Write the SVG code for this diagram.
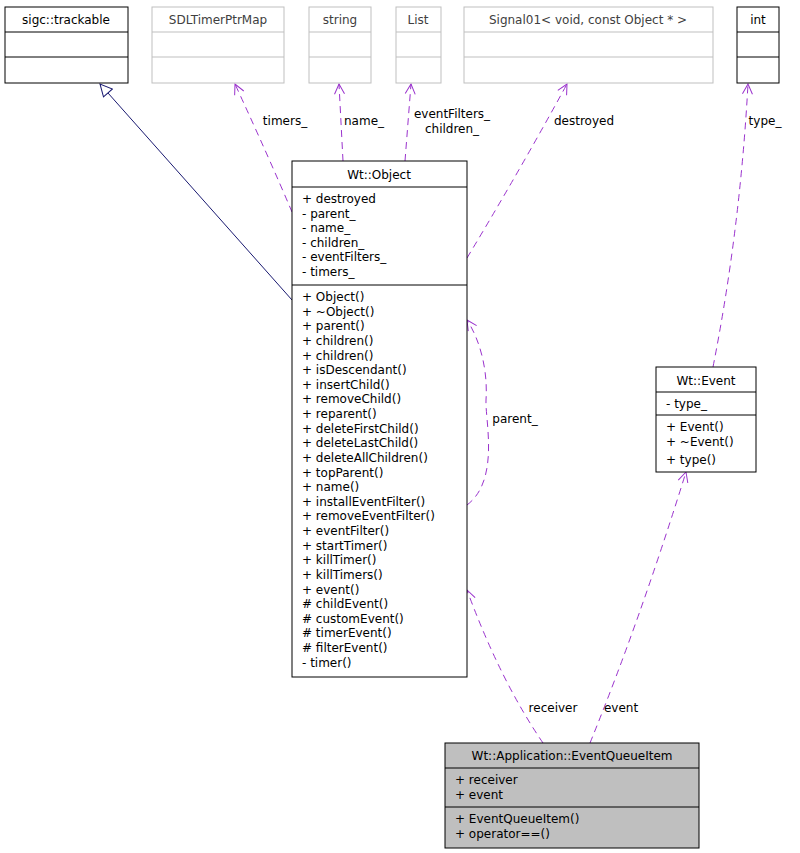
<svg xmlns="http://www.w3.org/2000/svg" width="800" height="853" viewBox="0 0 800 853">
<style>
text{font-family:"DejaVu Sans",sans-serif;font-size:12px;fill:#000}
.c{text-anchor:middle}
.b{fill:#fff;stroke:#000;stroke-width:1}
.g{fill:#fff;stroke:#bfbfbf;stroke-width:1}
.e{fill:none;stroke:#9a32cd;stroke-dasharray:7,5}
.t{fill:#404040}
</style>
<defs>
<marker id="a" markerWidth="12" markerHeight="12" refX="11" refY="6" orient="auto" markerUnits="userSpaceOnUse"><path d="M1,1 L11,6 L1,11" fill="none" stroke="#9a32cd"/></marker>
<marker id="h" markerWidth="14" markerHeight="14" refX="13" refY="7" orient="auto" markerUnits="userSpaceOnUse"><path d="M1,1 L13,7 L1,13 Z" fill="#fff" stroke="#191970"/></marker>
</defs>
<g id="connectors">
<path d="M292,300 L100,84" stroke="#191970" fill="none" marker-end="url(#h)"/>
<path class="e" d="M292,212 Q270,160 235,84" marker-end="url(#a)"/>
<path class="e" d="M343,161 L339,84" marker-end="url(#a)"/>
<path class="e" d="M405,161 L411,84" marker-end="url(#a)"/>
<path class="e" d="M467,258 Q520,170 567,84" marker-end="url(#a)"/>
<path class="e" d="M713,367 Q740,230 748,84" marker-end="url(#a)"/>
<path class="e" d="M467,505 C500,480 485,420 486,400 C488,370 480,340 467,320" marker-end="url(#a)"/>
<path class="e" d="M543,743 Q500,680 467,590" marker-end="url(#a)"/>
<path class="e" d="M590,743 Q640,620 686,472" marker-end="url(#a)"/>
<text x="285" y="125" class="c">timers_</text>
<text x="364" y="125" class="c">name_</text>
<text x="452" y="118" class="c">eventFilters_</text>
<text x="452" y="133" class="c">children_</text>
<text x="584" y="125" class="c">destroyed</text>
<text x="765" y="125" class="c">type_</text>
<text x="515" y="423" class="c">parent_</text>
<text x="553" y="712" class="c">receiver</text>
<text x="621" y="712" class="c">event</text>
</g>
<g id="trackable"><rect class="b" x="5" y="7" width="123" height="76"/><path d="M5,32H128M5,57H128" stroke="#000"/><text x="66" y="24" class="c">sigc::trackable</text></g>
<g id="sdltimer"><rect class="g" x="152" y="7" width="132" height="76"/><path d="M152,32H284M152,57H284" stroke="#bfbfbf"/><text x="218" y="24" class="c t">SDLTimerPtrMap</text></g>
<g id="string"><rect class="g" x="309" y="7" width="62" height="76"/><path d="M309,32H371M309,57H371" stroke="#bfbfbf"/><text x="340" y="24" class="c t">string</text></g>
<g id="list"><rect class="g" x="396" y="7" width="45" height="76"/><path d="M396,32H441M396,57H441" stroke="#bfbfbf"/><text x="418" y="24" class="c t">List</text></g>
<g id="signal"><rect class="g" x="464" y="7" width="249" height="76"/><path d="M464,32H713M464,57H713" stroke="#bfbfbf"/><text x="588" y="24" class="c t">Signal01&lt; void, const Object * &gt;</text></g>
<g id="int"><rect class="b" x="737" y="7" width="42" height="76"/><path d="M737,32H779M737,57H779" stroke="#000"/><text x="758" y="24" class="c">int</text></g>
<g id="object"><rect class="b" x="292" y="161" width="175" height="516"/><path d="M292,187H467M292,285H467" stroke="#000"/>
<text x="379" y="179" class="c">Wt::Object</text>
<text x="302" y="203">+ destroyed</text><text x="302" y="218">- parent_</text><text x="302" y="232">- name_</text><text x="302" y="247">- children_</text><text x="302" y="261">- eventFilters_</text><text x="302" y="276">- timers_</text>
<text x="302" y="301">+ Object()</text><text x="302" y="316">+ ~Object()</text><text x="302" y="330">+ parent()</text><text x="302" y="345">+ children()</text><text x="302" y="360">+ children()</text><text x="302" y="374">+ isDescendant()</text><text x="302" y="389">+ insertChild()</text><text x="302" y="403">+ removeChild()</text><text x="302" y="418">+ reparent()</text><text x="302" y="433">+ deleteFirstChild()</text><text x="302" y="447">+ deleteLastChild()</text><text x="302" y="462">+ deleteAllChildren()</text><text x="302" y="477">+ topParent()</text><text x="302" y="491">+ name()</text><text x="302" y="506">+ installEventFilter()</text><text x="302" y="520">+ removeEventFilter()</text><text x="302" y="535">+ eventFilter()</text><text x="302" y="550">+ startTimer()</text><text x="302" y="564">+ killTimer()</text><text x="302" y="579">+ killTimers()</text><text x="302" y="594">+ event()</text><text x="302" y="608"># childEvent()</text><text x="302" y="623"># customEvent()</text><text x="302" y="637"># timerEvent()</text><text x="302" y="652"># filterEvent()</text><text x="302" y="667">- timer()</text>
</g>
<g id="event"><rect class="b" x="656" y="367" width="100" height="105"/><path d="M656,392H756M656,415H756" stroke="#000"/>
<text x="706" y="385" class="c">Wt::Event</text><text x="666" y="408">- type_</text>
<text x="666" y="431">+ Event()</text><text x="666" y="446">+ ~Event()</text><text x="666" y="464">+ type()</text></g>
<g id="eqi"><rect x="445" y="743" width="254" height="105" fill="#bfbfbf" stroke="#000"/><path d="M445,768H699M445,807H699" stroke="#000"/>
<text x="572" y="760" class="c">Wt::Application::EventQueueItem</text>
<text x="455" y="784">+ receiver</text><text x="455" y="799">+ event</text>
<text x="455" y="823">+ EventQueueItem()</text><text x="455" y="838">+ operator==()</text></g>
</svg>
